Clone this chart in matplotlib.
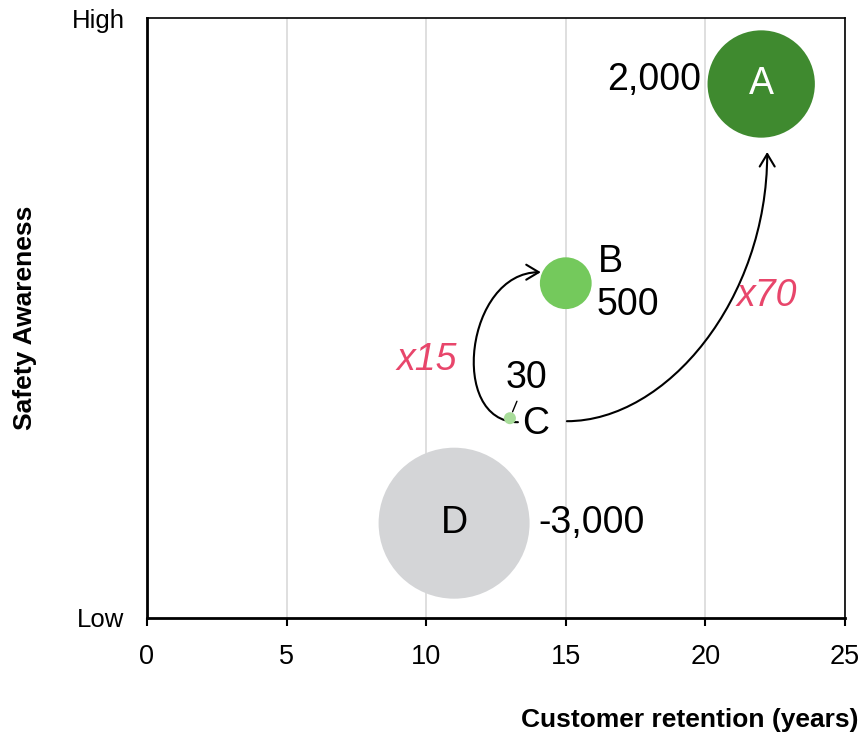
import numpy as np
import matplotlib
matplotlib.use("Agg")
import matplotlib.pyplot as plt
from matplotlib.patches import FancyArrowPatch
from matplotlib.path import Path

plt.rcParams['font.family'] = ['Liberation Sans', 'DejaVu Sans']

# bubble data
names = ['A', 'B', 'C', 'D']
retention = [22, 15, 13, 11]            # customer retention (years)
awareness = [89, 55.8, 33.3, 15.8]      # safety awareness, 0 = low, 100 = high
profit = [2000, 500, 30, -3000]
bubble_area = [2880, 670, 36, 5700]     # relative bubble area
colors = ['#3f8a2f', '#74c95c', '#a8dc9a', '#d4d5d7']

multipliers = ['x15', 'x70']
x_ticks = [0, 5, 10, 15, 20, 25]
y_ticks = [0, 100]
y_tick_labels = ['Low', 'High']

fig = plt.figure(figsize=(8.63, 7.35), dpi=100)
ax = fig.add_axes([0.1703, 0.1592, 0.8088, 0.8163])

ax.set_xlim(0, 25)
ax.set_ylim(0, 100)
ax.set_xticks(x_ticks)
ax.set_yticks(y_ticks)
ax.set_yticklabels(y_tick_labels)
ax.xaxis.grid(True, color='#d9d9d9', linewidth=1.2)
ax.set_axisbelow(True)
ax.tick_params(axis='x', length=6, width=1.5, labelsize=19.5, pad=13)
ax.tick_params(axis='y', length=0, labelsize=18.5, pad=16)
for side in ['top', 'right']:
    ax.spines[side].set_linewidth(1.2)
for side in ['left', 'bottom']:
    ax.spines[side].set_linewidth(2)

# pixel -> data unit conversion for annotation offsets
px_x = 25 / (0.8088 * 863)
px_y = 100 / (0.8163 * 735)


def shift(x, y, dx_px, dy_px):
    return (x + dx_px * px_x, y + dy_px * px_y)


# bubbles (scatter size = diameter in points squared)
sizes = [2.0736 * a for a in bubble_area]
ax.scatter(retention, awareness, s=sizes, c=colors, linewidths=0, zorder=3)

fs = 27
lab = [f"{v:,}" for v in profit]

# A
ax.text(retention[0], awareness[0], names[0], color='white', fontsize=fs,
        ha='center', va='center', zorder=4)
ax.annotate(lab[0], (retention[0], awareness[0]), xytext=(-43, 3),
            textcoords='offset points', ha='right', va='center', fontsize=fs)
# B
ax.annotate(names[1], (retention[1], awareness[1]), xytext=(23, 15),
            textcoords='offset points', ha='left', va='center', fontsize=fs)
ax.annotate(lab[1], (retention[1], awareness[1]), xytext=(22, -16),
            textcoords='offset points', ha='left', va='center', fontsize=fs)
# C
ax.annotate(names[2], (retention[2], awareness[2]), xytext=(9, -4),
            textcoords='offset points', ha='left', va='center', fontsize=fs)
ax.annotate(lab[2], (retention[2], awareness[2]), xytext=(12, 29),
            textcoords='offset points', ha='center', va='center', fontsize=fs,
            arrowprops=dict(arrowstyle='-', color='black', lw=1,
                            shrinkA=2, shrinkB=5))
# D
ax.text(retention[3], awareness[3], names[3], color='black', fontsize=fs,
        ha='center', va='center', zorder=4)
ax.annotate(lab[3], (retention[3], awareness[3]), xytext=(61, 0),
            textcoords='offset points', ha='left', va='center', fontsize=fs)

# growth arrows from C (cubic curves)
astyle = '->,head_length=0.5,head_width=0.3'
p0 = shift(retention[2], awareness[2], 8, -4)
p3 = shift(retention[1], awareness[1], -25, 11)
p1 = shift(*p0, -70, 0)
p2 = shift(*p3, -75, 0)
c_to_b = FancyArrowPatch(path=Path([p0, p1, p2, p3],
                                   [Path.MOVETO, Path.CURVE4, Path.CURVE4, Path.CURVE4]),
                         arrowstyle=astyle, mutation_scale=18, lw=1.5,
                         color='black', zorder=2)
q0 = shift(retention[2], awareness[2], 57, -3)
q3 = shift(retention[0], awareness[0], 6, -68)
q1 = shift(*q0, 100, 0)
q2 = shift(*q3, 0, -147)
c_to_a = FancyArrowPatch(path=Path([q0, q1, q2, q3],
                                   [Path.MOVETO, Path.CURVE4, Path.CURVE4, Path.CURVE4]),
                         arrowstyle=astyle, mutation_scale=18, lw=1.5,
                         color='black', zorder=2)
ax.add_patch(c_to_b)
ax.add_patch(c_to_a)

ax.text(10.03, 43, multipliers[0], color='#e8466b', fontsize=fs,
        style='italic', ha='center', va='center')
ax.text(22.2, 53.7, multipliers[1], color='#e8466b', fontsize=fs,
        style='italic', ha='center', va='center')

fig.text(858 / 863, 1 - 720 / 735, 'Customer retention (years)',
         fontsize=19, fontweight='bold', ha='right', va='center')
fig.text(25 / 863, 1 - 318 / 735, 'Safety Awareness', rotation=90,
         fontsize=19, fontweight='bold', ha='center', va='center')

fig.savefig('out.png', dpi=100)
